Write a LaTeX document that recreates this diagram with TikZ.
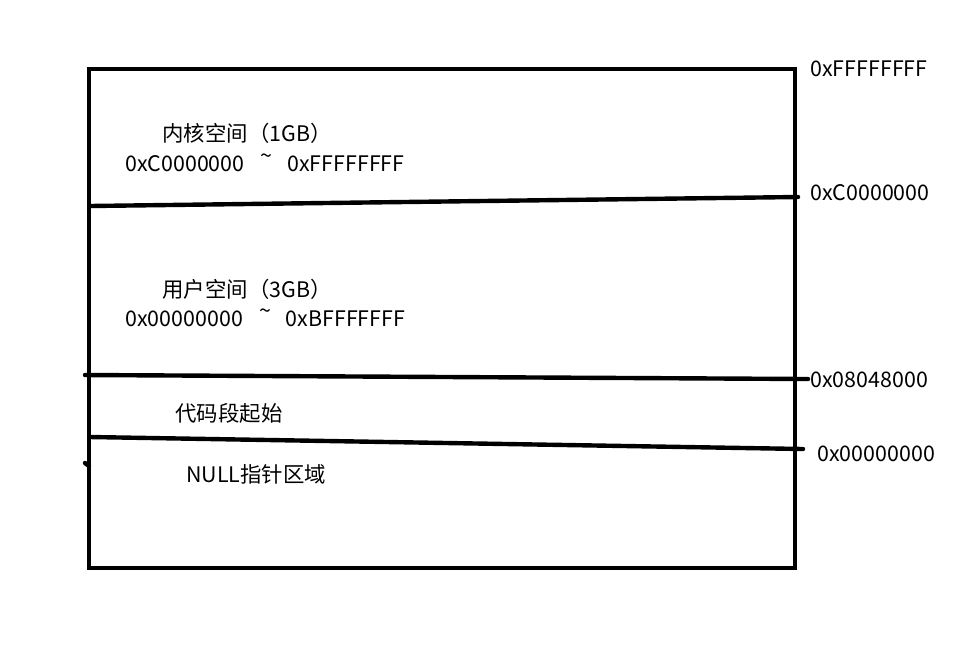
\documentclass[tikz,border=0pt]{standalone}
\usepackage{fontspec}
\newfontfamily\cjk{Noto Sans CJK SC}
\usetikzlibrary{positioning}
\newcommand{\rangesep}{\hspace{0.75em}\raisebox{0.35em}{\textasciitilde}\hspace{0.7em}}
\begin{document}
\begin{tikzpicture}[x=0.5pt,y=-0.5pt,
  memtext/.style={font=\cjk\fontsize{10.7}{12}\selectfont,inner sep=0pt,anchor=base west},
  memline/.style={line width=2.2pt,black,line cap=round}
]
  \useasboundingbox (0,0) rectangle (961,665);
  % Outer box
  \draw[line width=2.2pt] (89,69) rectangle (795,568);
  % Boundary end points
  \coordinate (kl) at (90,206);  \coordinate (kr) at (798,197);
  \coordinate (cl) at (85,375);  \coordinate (cr) at (808,379);
  \coordinate (nl) at (90,437);  \coordinate (nr) at (803,449);
  \coordinate (tl) at (85,463);  \coordinate (tr) at (89,466);
  % Boundaries
  \draw[memline] (kl) -- (kr);
  \draw[memline] (cl) -- (cr);
  \draw[memline] (nl) -- (nr);
  \draw[memline] (tl) -- (tr);
  % Region labels
  \node[memtext] (kern) at (162,141) {内核空间（1GB）};
  \node[memtext] (kernr) at (125,171) {0xC0000000\rangesep 0xFFFFFFFF};
  \node[memtext] (user) at (162,297) {用户空间（3GB）};
  \node[memtext] (userr) at (125,326) {0x00000000\rangesep 0xBFFFFFFF};
  \node[memtext] (code) at (175,421) {代码段起始};
  \node[memtext] (null) at (186,482) {NULL指针区域};
  % Addresses
  \node[memtext] (atop) at (810,76) {0xFFFFFFFF};
  \node[memtext] (akern) at (810,200) {0xC0000000};
  \node[memtext] (acode) at (810,387) {0x08048000};
  \node[memtext] (anull) at (817,461) {0x00000000};
\end{tikzpicture}
\end{document}
